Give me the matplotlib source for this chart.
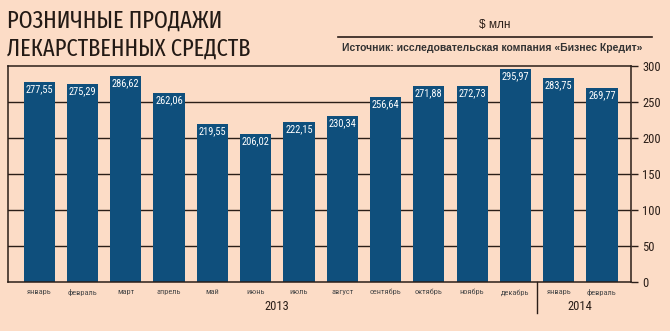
import matplotlib
matplotlib.use("Agg")
import matplotlib.pyplot as plt
from matplotlib.lines import Line2D
import matplotlib.transforms as mtransforms

months = ["январь", "февраль", "март", "апрель", "май", "июнь", "июль", "август",
          "сентябрь", "октябрь", "ноябрь", "декабрь", "январь", "февраль"]
values = [277.55, 275.29, 286.62, 262.06, 219.55, 206.02, 222.15, 230.34,
          256.64, 271.88, 272.73, 295.97, 283.75, 269.77]
years = ["2013", "2014"]
yticks = [0, 50, 100, 150, 200, 250, 300]

BG = "#fcdcc6"
BAR = "#0f4f7c"
DARK = "#2a1e18"
NARROW = ["Roboto Condensed", "PT Sans Narrow", "DejaVu Sans"]
TITLEF = ["Fira Sans Extra Condensed", "Roboto Condensed", "DejaVu Sans"]
SANS = ["Liberation Sans", "DejaVu Sans"]

fig = plt.figure(figsize=(6.7, 3.31), dpi=100, facecolor=BG)
ax = fig.add_axes([8/670, 1-282/331, (631-8)/670, (282-66)/331])
ax.set_facecolor(BG)

x = list(range(len(values)))
ax.set_xlim(-0.72, 13.67)
ax.set_ylim(0, 300)

for t in yticks[1:-1]:
    ax.axhline(t, color=DARK, lw=1.0, zorder=1)

ax.bar(x, values, width=0.72, color=BAR, zorder=2)

for xi, v in zip(x, values):
    ax.text(xi, v - 3, f"{v:.2f}".replace(".", ","), ha="center", va="top",
            color="white", fontsize=7.5, family=NARROW, zorder=3)

for s in ["left", "right", "top", "bottom"]:
    ax.spines[s].set_color(DARK)
    ax.spines[s].set_linewidth(1.1)

ax.yaxis.tick_right()
ax.set_yticks(yticks)
ax.set_yticklabels([str(t) for t in yticks], family=NARROW, fontsize=9, color=DARK)
ax.tick_params(axis="y", direction="out", length=5, width=1.0, color=DARK, pad=3)

ax.set_xticks(x)
ax.set_xticklabels(months, fontsize=6, color="#4a4a4a", family=NARROW)
ax.tick_params(axis="x", length=0, pad=5)

trans = mtransforms.blended_transform_factory(ax.transData, ax.transAxes)
ax.text(5.5, -0.115, years[0], transform=trans, ha="center", va="center",
        fontsize=9, family=NARROW, color=DARK)
ax.text(12.5, -0.115, years[1], transform=trans, ha="center", va="center",
        fontsize=9, family=NARROW, color=DARK)
ax.add_line(Line2D([11.5, 11.5], [0, -31/216], transform=trans, color=DARK,
                   lw=1.0, clip_on=False))

fig.text(7/670, 1-21/331, "РОЗНИЧНЫЕ ПРОДАЖИ", fontsize=17.5, family=TITLEF,
         weight="normal", color="#231a15", ha="left", va="center")
fig.text(7/670, 1-48.5/331, "ЛЕКАРСТВЕННЫХ СРЕДСТВ", fontsize=17.5, family=TITLEF,
         weight="normal", color="#231a15", ha="left", va="center")

fig.text(495/670, 1-25/331, "$ млн", fontsize=8.5, family=SANS, color=DARK,
         ha="center", va="center")
fig.add_artist(Line2D([338/670, 652/670], [1-37/331, 1-37/331],
                      transform=fig.transFigure, color=DARK, lw=1.2))
fig.text(492/670, 1-48/331, "Источник: исследовательская компания «Бизнес Кредит»",
         fontsize=7.5, family=SANS, weight="bold", color="#333333",
         ha="center", va="center")

fig.savefig("out.png", dpi=100, facecolor=BG)
